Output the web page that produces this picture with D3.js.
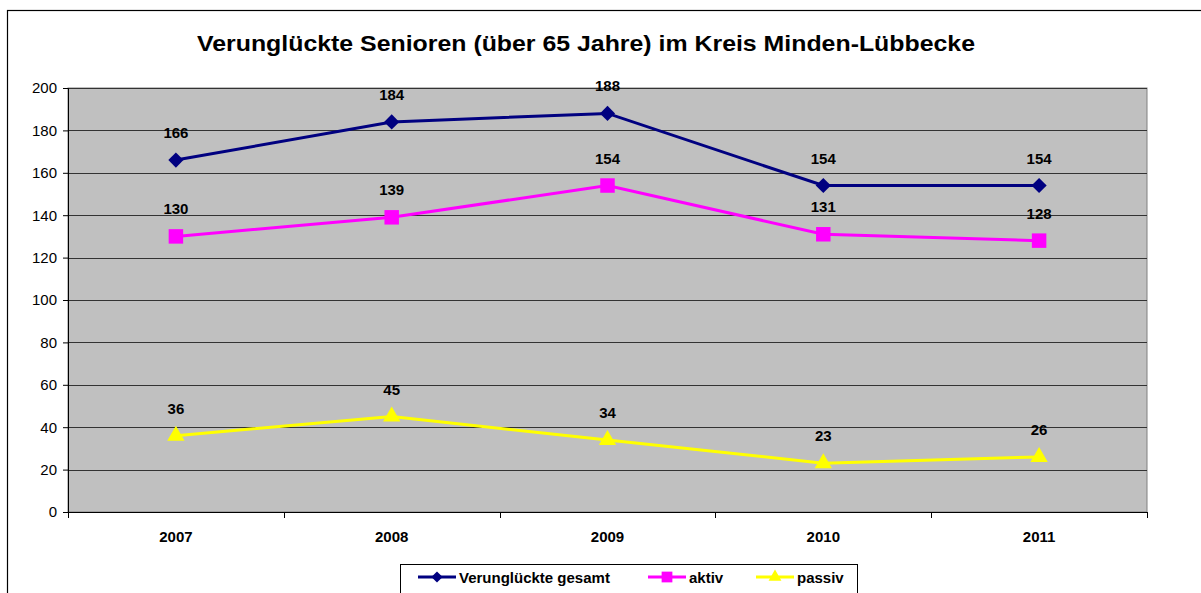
<!DOCTYPE html>
<html><head><meta charset="utf-8">
<script src="https://cdn.jsdelivr.net/npm/d3@7"></script>
<style>body{margin:0;background:#fff;} svg{display:block;font-family:"Liberation Sans",Arial,sans-serif;}</style>
</head><body>
<script>
const years = ["2007","2008","2009","2010","2011"];
const gesamt = [166,184,188,154,154];
const aktiv = [130,139,154,131,128];
const passiv = [36,45,34,23,26];
const yTicks = [0,20,40,60,80,100,120,140,160,180,200];
const seriesNames = ["Verunglückte gesamt","aktiv","passiv"];
const seriesColors = ["#000080","#FF00FF","#FFFF00"];
const seriesShapes = [d3.symbolSquare, d3.symbolSquare, d3.symbolTriangle];
const seriesRot = [45,0,0];

const W=1201,H=593;
const svg=d3.select("body").append("svg").attr("width",W).attr("height",H);
svg.append("rect").attr("x",7.5).attr("y",10.5).attr("width",1200).attr("height",600).attr("fill","#fff").attr("stroke","#000").attr("stroke-width",1.2);

const L=68,R=1147,T=88,B=512;
const x=d3.scaleBand().domain(years).range([L,R]);
const y=d3.scaleLinear().domain([0,200]).range([B,T]);

svg.append("text").attr("x",197).attr("y",51).attr("font-weight","bold").attr("font-size",22.5)
 .attr("textLength",778).attr("lengthAdjust","spacingAndGlyphs")
 .text("Verunglückte Senioren (über 65 Jahre) im Kreis Minden-Lübbecke");

svg.append("rect").attr("x",L).attr("y",T).attr("width",R-L).attr("height",B-T).attr("fill","#C0C0C0").attr("stroke","#808080").attr("stroke-width",1);

svg.append("g").selectAll("line").data(yTicks.filter(d=>d>0)).join("line")
 .attr("x1",L).attr("x2",R).attr("y1",d=>Math.round(y(d))+0.5).attr("y2",d=>Math.round(y(d))+0.5)
 .attr("stroke","#333").attr("stroke-width",1);

const ya=svg.append("g").attr("transform",`translate(${L},0)`).call(d3.axisLeft(y).tickValues(yTicks).tickSize(5).tickPadding(6));
ya.selectAll("text").attr("font-size",15).attr("font-family","Liberation Sans, Arial").attr("fill","#000");
ya.selectAll("line").attr("stroke","#000");
ya.select(".domain").attr("stroke","#000");

const xa=svg.append("g").attr("transform",`translate(0,${B})`).call(d3.axisBottom(x).tickSize(0).tickPadding(19));
xa.selectAll("text").attr("font-size",15).attr("font-weight","bold").attr("font-family","Liberation Sans, Arial").attr("fill","#000");
xa.select(".domain").attr("stroke","#000");
const bounds=years.map(d=>x(d)).concat([R]);
svg.append("g").selectAll("line").data(bounds).join("line")
 .attr("x1",d=>Math.round(d)+0.5).attr("x2",d=>Math.round(d)+0.5).attr("y1",B).attr("y2",B+6).attr("stroke","#000");

const data=[gesamt,aktiv,passiv];
const cx=d=>x(d)+x.bandwidth()/2;
const sizes=[115,210,130];
data.forEach((vals,i)=>{
  const pts=years.map((yr,j)=>[cx(yr),y(vals[j])]);
  svg.append("path").attr("d",d3.line()(pts)).attr("fill","none").attr("stroke",seriesColors[i]).attr("stroke-width",3);
  svg.append("g").selectAll("path").data(pts).join("path")
   .attr("transform",p=>`translate(${p[0]},${p[1]}) rotate(${seriesRot[i]})`)
   .attr("d",d3.symbol().type(seriesShapes[i]).size(sizes[i])).attr("fill",seriesColors[i]);
  svg.append("g").selectAll("text").data(vals).join("text")
   .attr("x",(v,j)=>cx(years[j])).attr("y",v=>y(v)-22).attr("text-anchor","middle")
   .attr("font-size",15).attr("font-weight","bold").text(v=>v);
});

const lg=svg.append("g");
lg.append("rect").attr("x",400.5).attr("y",564.5).attr("width",457).attr("height",40).attr("fill","#fff").attr("stroke","#000");
const lx=[418,648,756];
seriesNames.forEach((n,i)=>{
  lg.append("line").attr("x1",lx[i]).attr("x2",lx[i]+38).attr("y1",577).attr("y2",577).attr("stroke",seriesColors[i]).attr("stroke-width",3);
  lg.append("path").attr("transform",`translate(${lx[i]+19},577) rotate(${seriesRot[i]})`).attr("d",d3.symbol().type(seriesShapes[i]).size(sizes[i]*0.55)).attr("fill",seriesColors[i]);
  lg.append("text").attr("x",lx[i]+41).attr("y",582.5).attr("font-size",15).attr("font-weight","bold").text(n);
});
</script>
</body></html>
